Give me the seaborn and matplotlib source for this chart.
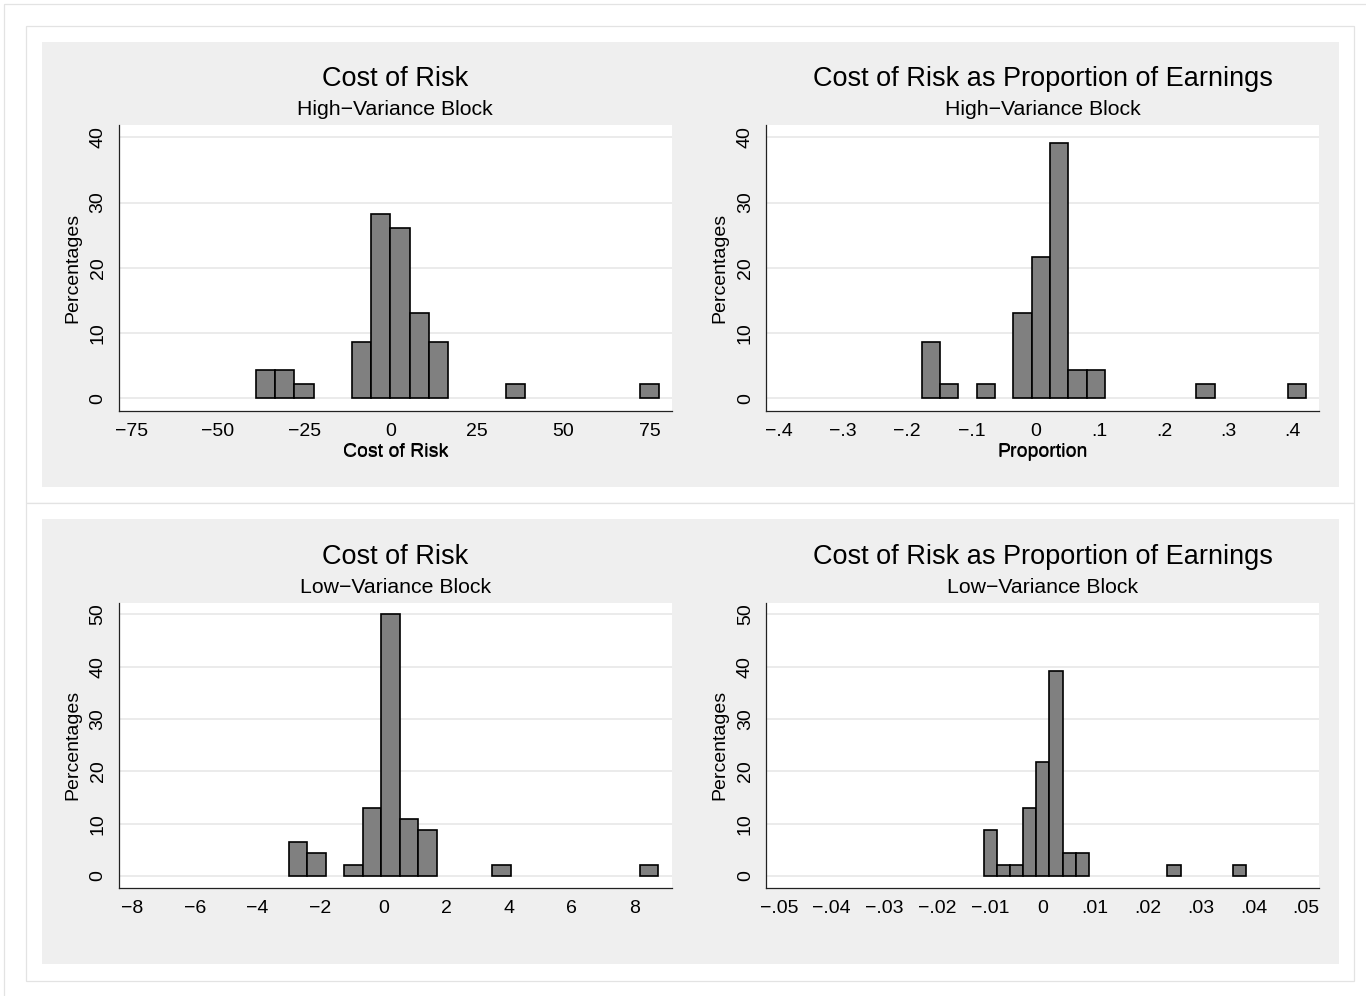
import numpy as np
import pandas as pd
import matplotlib
matplotlib.use("Agg")
import matplotlib.pyplot as plt
from matplotlib.patches import Rectangle
import seaborn as sns

# ---- histogram data: outer bin edges and percentage of blocks per bin ----
hv_cost_range = [-38.9, 77.8]
hv_cost_pct = [4.35, 4.35, 2.17, 0, 0, 8.70, 28.26, 26.09, 13.04, 8.70, 0, 0, 0,
               2.17, 0, 0, 0, 0, 0, 0, 2.17]

hv_prop_range = [-0.1773, 0.4218]
hv_prop_pct = [8.70, 2.17, 0, 2.17, 0, 13.04, 21.74, 39.13, 4.35, 4.35, 0, 0, 0, 0,
               0, 2.17, 0, 0, 0, 0, 2.17]

lv_cost_range = [-3.0, 8.76]
lv_cost_pct = [6.52, 4.35, 0, 2.17, 13.04, 50.00, 10.87, 8.70, 0, 0, 0, 2.17,
               0, 0, 0, 0, 0, 0, 0, 2.17]

lv_prop_range = [-0.01113, 0.0386]
lv_prop_pct = [8.70, 2.17, 2.17, 13.04, 21.74, 39.13, 4.35, 4.35, 0, 0, 0, 0, 0, 0,
               2.17, 0, 0, 0, 0, 2.17]

# ---- axis ticks ----
hv_cost_xticks = [-75, -50, -25, 0, 25, 50, 75]
hv_prop_xticks = [-0.4, -0.3, -0.2, -0.1, 0, 0.1, 0.2, 0.3, 0.4]
lv_cost_xticks = [-8, -6, -4, -2, 0, 2, 4, 6, 8]
lv_prop_xticks = [-0.05, -0.04, -0.03, -0.02, -0.01, 0, 0.01, 0.02, 0.03, 0.04, 0.05]
hv_yticks = [0, 10, 20, 30, 40]
lv_yticks = [0, 10, 20, 30, 40, 50]

titles = ["Cost of Risk", "Cost of Risk as Proportion of Earnings"]
subtitles = ["High\u2212Variance Block", "Low\u2212Variance Block"]
xlabels = ["Cost of Risk", "Proportion"]
ylabel = "Percentages"

sns.set_style("white")
plt.rcParams["font.family"] = ["Liberation Sans", "DejaVu Sans"]

W, H = 1366, 996
fig = plt.figure(figsize=(W / 100, H / 100), dpi=100)
fig.patch.set_facecolor("white")


def px_rect(x0, y0, x1, y1, **kw):
    """Rectangle given in pixel coordinates measured from the top-left corner."""
    r = Rectangle((x0 / W, 1 - y1 / H), (x1 - x0) / W, (y1 - y0) / H,
                  transform=fig.transFigure, zorder=-10, **kw)
    fig.add_artist(r)


line_col = "#e3e3e3"
# outer frame
px_rect(4, 4, 1372, 1002, facecolor="none", edgecolor=line_col, lw=0.9)
# row boxes with grey plot regions
for (y0, y1) in [(26, 503), (503, 980.5)]:
    px_rect(26, y0, 1354, y1, facecolor="white", edgecolor=line_col, lw=0.9)
    px_rect(42, y0 + 16, 1339, y1 - 16.5, facecolor="#efefef", edgecolor="none")


def stata_fmt(v):
    v = round(v, 6)
    if v == 0:
        return "0"
    s = f"{abs(v):g}"
    if s.startswith("0."):
        s = s[1:]
    return ("\u2212" if v < 0 else "") + s


panels = [
    dict(rng=hv_cost_range, pct=hv_cost_pct, xt=hv_cost_xticks, yt=hv_yticks,
         xlim=(-78.6, 81.4), ylim=(-1.9, 41.9), box=(119, 125, 671.6, 410.7),
         title=titles[0], sub=subtitles[0], xl=xlabels[0]),
    dict(rng=hv_prop_range, pct=hv_prop_pct, xt=hv_prop_xticks, yt=hv_yticks,
         xlim=(-0.4195, 0.441), ylim=(-1.9, 41.9), box=(766.3, 125, 1318.7, 410.7),
         title=titles[1], sub=subtitles[0], xl=xlabels[1]),
    dict(rng=lv_cost_range, pct=lv_cost_pct, xt=lv_cost_xticks, yt=lv_yticks,
         xlim=(-8.41, 9.18), ylim=(-2.24, 52.16), box=(119, 603, 671.6, 887.7),
         title=titles[0], sub=subtitles[1], xl=xlabels[0]),
    dict(rng=lv_prop_range, pct=lv_prop_pct, xt=lv_prop_xticks, yt=lv_yticks,
         xlim=(-0.05237, 0.05235), ylim=(-2.24, 52.16), box=(766.3, 603, 1318.7, 887.7),
         title=titles[1], sub=subtitles[1], xl=xlabels[1]),
]

axis_col = "#222222"
for p in panels:
    x0, y0, x1, y1 = p["box"]
    ax = fig.add_axes([x0 / W, 1 - y1 / H, (x1 - x0) / W, (y1 - y0) / H])
    ax.set_facecolor("white")

    nb = len(p["pct"])
    lo, hi = p["rng"]
    width = (hi - lo) / nb
    centers = [lo + (i + 0.5) * width for i in range(nb)]
    df = pd.DataFrame({"x": centers, "pct": p["pct"]})
    sns.histplot(data=df, x="x", weights="pct", bins=nb, binrange=(lo, hi),
                 color="#808080", alpha=1, edgecolor="black", linewidth=1.2, ax=ax,
                 zorder=3)
    for patch in list(ax.patches):
        if patch.get_height() == 0:
            patch.remove()

    ax.set_xlim(*p["xlim"])
    ax.set_ylim(*p["ylim"])
    ax.set_xticks(p["xt"])
    ax.set_xticklabels([stata_fmt(v) for v in p["xt"]])
    ax.set_yticks(p["yt"])
    ax.set_yticklabels([str(v) for v in p["yt"]], rotation=90, va="center")

    for v in p["yt"]:
        ax.axhline(v, color="#e8e8e8", lw=1.2, zorder=1)

    for side in ["top", "right"]:
        ax.spines[side].set_visible(False)
    for side in ["left", "bottom"]:
        ax.spines[side].set_color(axis_col)
        ax.spines[side].set_linewidth(0.9)
    ax.tick_params(axis="both", direction="out", length=5.5, width=0.9,
                   color=axis_col, labelsize=14, labelcolor="black")
    ax.tick_params(axis="x", pad=3.5)
    ax.tick_params(axis="y", pad=3.5)

    ax.set_xlabel(p["xl"], fontsize=14, color="black")
    ax.xaxis.set_label_coords(0.5, -(452 - y1) / (y1 - y0))
    ax.xaxis.label.set_va("center")
    ax.set_ylabel(ylabel, fontsize=14, color="black")
    ax.yaxis.set_label_coords(-46 / (x1 - x0), 0.5)
    ax.yaxis.label.set_va("center")
    ax.grid(False)

    cx = (x0 + x1) / 2 / W
    fig.text(cx, 1 - (y0 - 46.5) / H, p["title"], ha="center", va="center",
             fontsize=19.5, color="black")
    fig.text(cx, 1 - (y0 - 15.5) / H, p["sub"], ha="center", va="center",
             fontsize=15.3, color="black")

fig.savefig("out.png", dpi=100)
